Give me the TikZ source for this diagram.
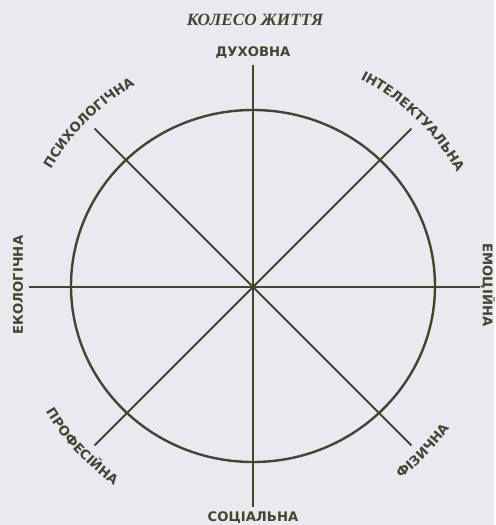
\documentclass[tikz,border=0pt]{standalone}
\usepackage{fontspec}
\setmainfont{Liberation Serif}
\newfontfamily\wheelfont{DejaVu Sans}
\usepackage{tikz}
\usetikzlibrary{decorations.text}
\definecolor{ink}{HTML}{45442F}
\definecolor{paper}{HTML}{E8EAEF}
\newcommand\spokefont{\wheelfont\bfseries\fontsize{6.6pt}{7pt}\selectfont}

\begin{document}
\begin{tikzpicture}[x=0.5pt,y=0.5pt,
  spoke/.style={draw=ink,line width=1pt},
  rim/.style={draw=ink,line width=1.2pt},
  lab/.style={font=\spokefont,text=ink,inner sep=0pt},
  arclab/.style={decorate,decoration={text along path,text align=center,text color=ink,text={|\spokefont|#1}}}]
\fill[paper] (-253,-238) rectangle (241,287);
\coordinate (c) at (0,0);
\coordinate (n) at (0,222); \coordinate (s) at (0,-220);
\coordinate (w) at (-224,0); \coordinate (e) at (227,0);
\coordinate (nw) at (135:224); \coordinate (se) at (-45:224);
\coordinate (ne) at (45:224); \coordinate (sw) at (225:224);
\draw[rim] (0,1) ellipse [x radius=182,y radius=176];
\draw[spoke] (n)--(s); \draw[spoke] (w)--(e);
\draw[spoke] (nw)--(se); \draw[spoke] (ne)--(sw);
\node[font=\bfseries\itshape\fontsize{8.6pt}{9pt}\selectfont,text=ink,inner sep=0pt] (title) at (2,267) {КОЛЕСО ЖИТТЯ};
\node[lab] (duh) at (0,234) {ДУХОВНА};
\node[lab] (soc) at (0,-231) {СОЦІАЛЬНА};
\node[lab,rotate=90] (eko) at (-235,2) {ЕКОЛОГІЧНА};
\node[lab,rotate=-90] (emo) at (235,2) {ЕМОЦІЙНА};
\path[arclab=ПСИХОЛОГІЧНА] (165:234) arc[start angle=165,end angle=105,radius=234];
\path[arclab=ІНТЕЛЕКТУАЛЬНА] (76:234) arc[start angle=76,end angle=16,radius=234];
\path[arclab=ПРОФЕСІЙНА] (193:242) arc[start angle=193,end angle=253,radius=242];
\path[arclab=ФІЗИЧНА] (-74:242) arc[start angle=-74,end angle=-14,radius=242];
\end{tikzpicture}
\end{document}
